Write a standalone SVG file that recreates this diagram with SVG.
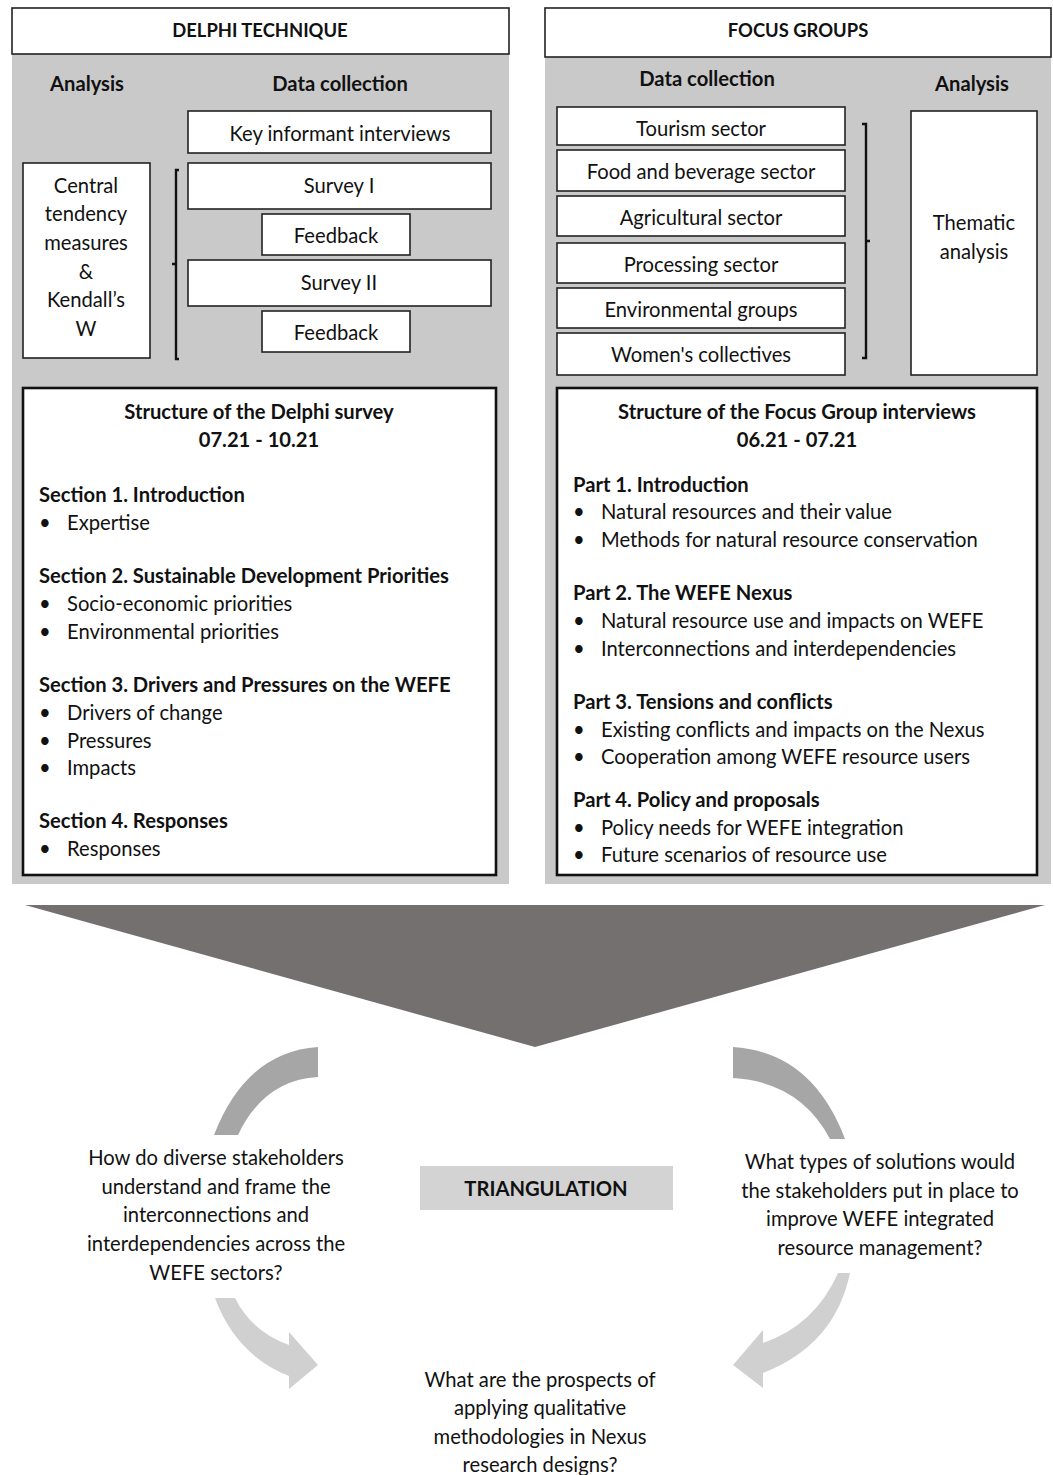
<svg xmlns="http://www.w3.org/2000/svg" width="1053" height="1475" viewBox="0 0 1053 1475">
<style>
text{font-family:Lato,"Liberation Sans",sans-serif;font-size:20.2px;fill:#111;dominant-baseline:central}
.b{font-weight:bold}
.c{text-anchor:middle}
.h{font-size:18.4px}
.box{fill:#fff;stroke:#222;stroke-width:1.6}
.big{fill:#fff;stroke:#111;stroke-width:2.6}
.panel{fill:#c9c9c9}
.br{fill:none;stroke:#111;stroke-width:2.4}
</style>
<rect width="1053" height="1475" fill="#fff"/>
<g id="delphi-panel">
<rect class="panel" x="12" y="8" width="497" height="876"/>
<rect class="box" x="12" y="8" width="497" height="46"/>
<text class="b c h" x="260" y="30">DELPHI TECHNIQUE</text>
<text class="b c" x="87" y="83">Analysis</text>
<text class="b c" x="340" y="83">Data collection</text>
</g>
<g id="key-informant"><rect class="box" x="188" y="111" width="303" height="42"/><text class="c" x="340" y="133">Key informant interviews</text></g>
<g id="delphi-analysis"><rect class="box" x="23" y="163" width="127" height="195"/>
<text class="c" x="86" y="185">Central</text><text class="c" x="86" y="213">tendency</text><text class="c" x="86" y="242">measures</text><text class="c" x="86" y="271">&amp;</text><text class="c" x="86" y="299">Kendall’s</text><text class="c" x="86" y="328">W</text></g>
<g id="survey1"><rect class="box" x="188" y="163" width="303" height="46"/><text class="c" x="339" y="185">Survey I</text></g>
<g id="feedback1"><rect class="box" x="262" y="214" width="148" height="41"/><text class="c" x="336" y="235">Feedback</text></g>
<g id="survey2"><rect class="box" x="188" y="260" width="303" height="46"/><text class="c" x="339" y="282">Survey II</text></g>
<g id="feedback2"><rect class="box" x="262" y="311" width="148" height="41"/><text class="c" x="336" y="332">Feedback</text></g>

<g id="focus-panel">
<rect class="panel" x="545" y="8" width="506" height="876"/>
<rect class="box" x="545" y="8" width="506" height="49"/>
<text class="b c h" x="798" y="30">FOCUS GROUPS</text>
<text class="b c" x="707" y="78">Data collection</text>
<text class="b c" x="972" y="83">Analysis</text>
</g>
<g id="tourism"><rect class="box" x="557" y="107" width="288" height="38"/><text class="c" x="701" y="128">Tourism sector</text></g>
<g id="food"><rect class="box" x="557" y="150" width="288" height="41"/><text class="c" x="701" y="171">Food and beverage sector</text></g>
<g id="agri"><rect class="box" x="557" y="196" width="288" height="40"/><text class="c" x="701" y="217">Agricultural sector</text></g>
<g id="processing"><rect class="box" x="557" y="243" width="288" height="40"/><text class="c" x="701" y="264">Processing sector</text></g>
<g id="environmental"><rect class="box" x="557" y="288" width="288" height="40"/><text class="c" x="701" y="309">Environmental groups</text></g>
<g id="women"><rect class="box" x="557" y="333" width="288" height="42"/><text class="c" x="701" y="354">Women's collectives</text></g>
<g id="thematic"><rect class="box" x="911" y="111" width="126" height="264"/><text class="c" x="974" y="222">Thematic</text><text class="c" x="974" y="251">analysis</text></g>

<g id="delphi-structure">
<rect class="big" x="23" y="388" width="473" height="487"/>
<text class="b c" x="259" y="411">Structure of the Delphi survey</text>
<text class="b c" x="259" y="439">07.21 - 10.21</text>
<text class="b" x="39" y="494">Section 1. Introduction</text>
<text x="39" y="522">•</text><text x="67" y="522">Expertise</text>
<text class="b" x="39" y="575">Section 2. Sustainable Development Priorities</text>
<text x="39" y="603">•</text><text x="67" y="603">Socio-economic priorities</text>
<text x="39" y="631">•</text><text x="67" y="631">Environmental priorities</text>
<text class="b" x="39" y="684">Section 3. Drivers and Pressures on the WEFE</text>
<text x="39" y="712">•</text><text x="67" y="712">Drivers of change</text>
<text x="39" y="740">•</text><text x="67" y="740">Pressures</text>
<text x="39" y="767">•</text><text x="67" y="767">Impacts</text>
<text class="b" x="39" y="820">Section 4. Responses</text>
<text x="39" y="848">•</text><text x="67" y="848">Responses</text>
</g>

<g id="focus-structure">
<rect class="big" x="557" y="388" width="480" height="487"/>
<text class="b c" x="797" y="411">Structure of the Focus Group interviews</text>
<text class="b c" x="797" y="439">06.21 - 07.21</text>
<text class="b" x="573" y="484">Part 1. Introduction</text>
<text x="573" y="511">•</text><text x="601" y="511">Natural resources and their value</text>
<text x="573" y="539">•</text><text x="601" y="539">Methods for natural resource conservation</text>
<text class="b" x="573" y="592">Part 2. The WEFE Nexus</text>
<text x="573" y="620">•</text><text x="601" y="620">Natural resource use and impacts on WEFE</text>
<text x="573" y="648">•</text><text x="601" y="648">Interconnections and interdependencies</text>
<text class="b" x="573" y="701">Part 3. Tensions and conflicts</text>
<text x="573" y="729">•</text><text x="601" y="729">Existing conflicts and impacts on the Nexus</text>
<text x="573" y="756">•</text><text x="601" y="756">Cooperation among WEFE resource users</text>
<text class="b" x="573" y="799">Part 4. Policy and proposals</text>
<text x="573" y="827">•</text><text x="601" y="827">Policy needs for WEFE integration</text>
<text x="573" y="854">•</text><text x="601" y="854">Future scenarios of resource use</text>
</g>

<g id="triangulation"><rect x="420" y="1166" width="253" height="44" fill="#d3d3d3"/><text class="b c" x="546" y="1188">TRIANGULATION</text></g>
<g id="q-left">
<text class="c" x="216" y="1157">How do diverse stakeholders</text>
<text class="c" x="216" y="1186">understand and frame the</text>
<text class="c" x="216" y="1214">interconnections and</text>
<text class="c" x="216" y="1243">interdependencies across the</text>
<text class="c" x="216" y="1272">WEFE sectors?</text>
</g>
<g id="q-right">
<text class="c" x="880" y="1161">What types of solutions would</text>
<text class="c" x="880" y="1190">the stakeholders put in place to</text>
<text class="c" x="880" y="1218">improve WEFE integrated</text>
<text class="c" x="880" y="1247">resource management?</text>
</g>
<g id="q-bottom">
<text class="c" x="540" y="1379">What are the prospects of</text>
<text class="c" x="540" y="1407">applying qualitative</text>
<text class="c" x="540" y="1436">methodologies in Nexus</text>
<text class="c" x="540" y="1464">research designs?</text>
</g>

<g id="connectors">
<path class="br" d="M179,170 H176 V359 H179 M176,264 H172"/>
<path class="br" d="M862,124 H866 V358 H862 M866,241 H870"/>
<polygon points="25,905 1045,905 535,1047" fill="#747070"/>
<path d="M318,1047 L318,1077 Q264,1080 238,1135 L214,1135 Q246,1052 318,1047 Z" fill="#a6a6a6"/>
<path d="M733,1047 Q812,1052 845,1139 L830,1139 Q800,1082 733,1078 Z" fill="#a6a6a6"/>
<path d="M215,1298 L235,1298 Q252,1332 289,1345 L289,1332 L318,1365 L289,1389 L289,1376 Q236,1355 215,1298 Z" fill="#d0d0d0"/>
<path d="M838,1273 L850,1273 Q835,1345 763,1373 L763,1388 L733,1365 L763,1330 L763,1343 Q815,1325 838,1273 Z" fill="#d0d0d0"/>
</g>
</svg>
